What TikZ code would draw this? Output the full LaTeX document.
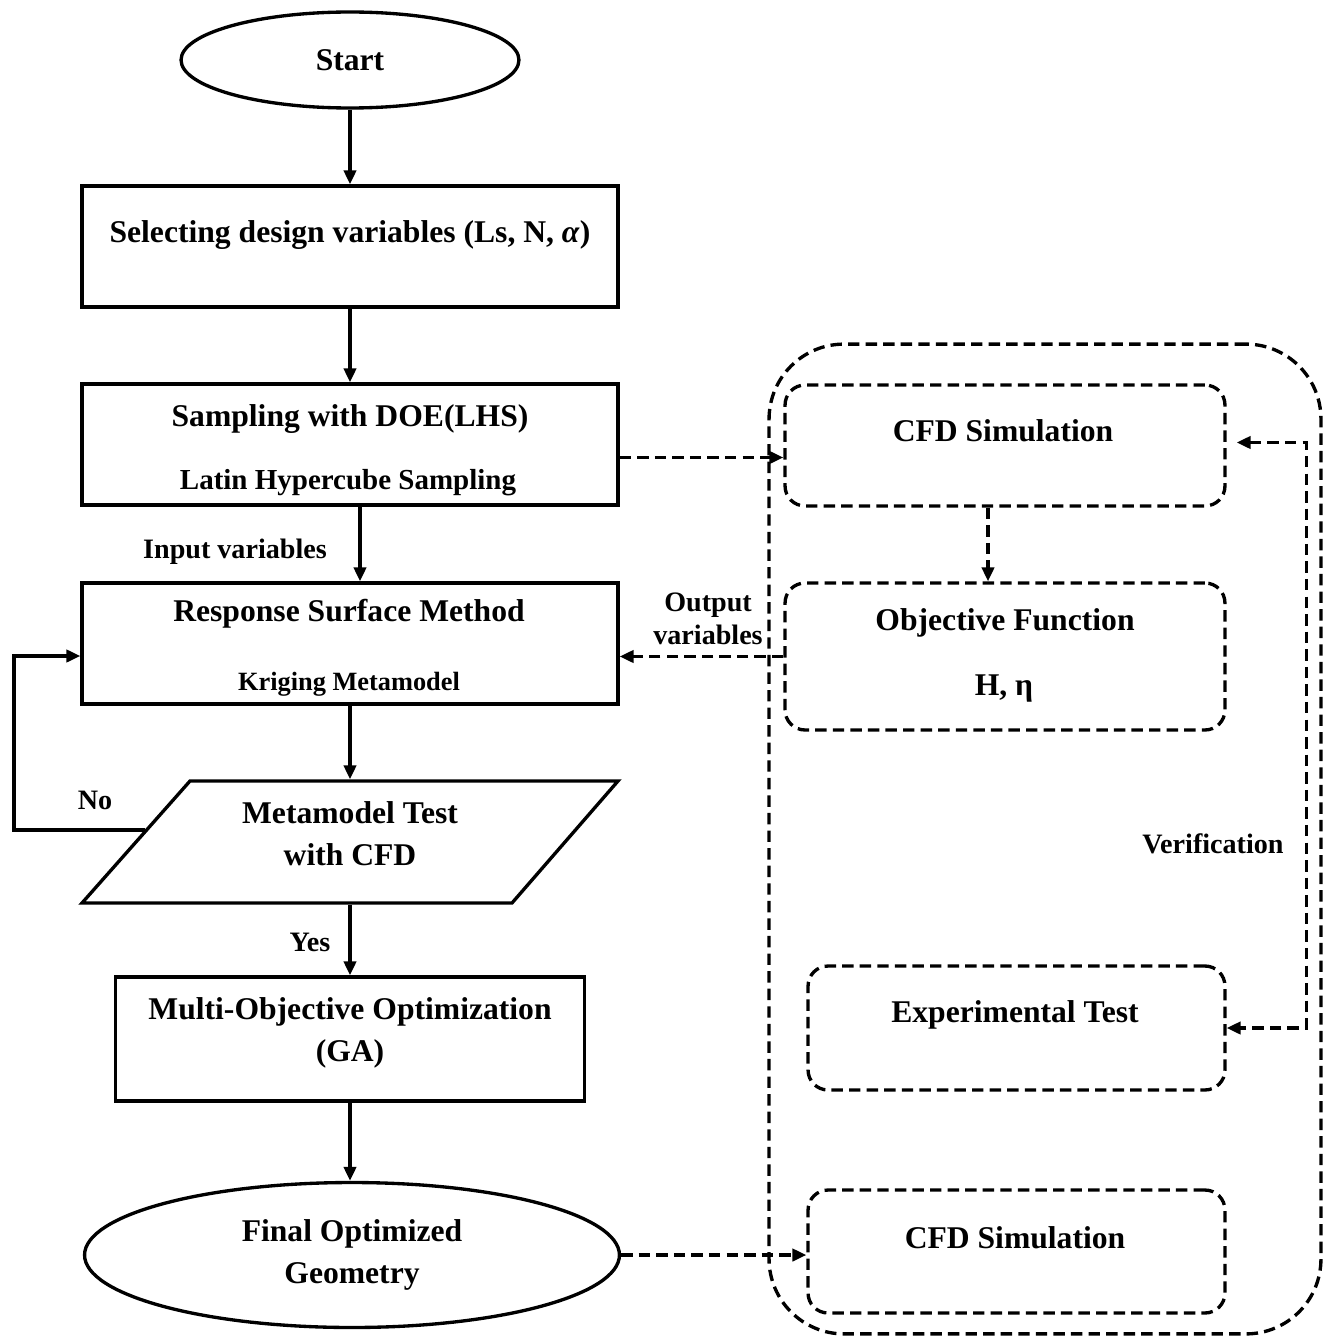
\documentclass[tikz,border=0pt]{standalone}
\usepackage{fontspec}
\setmainfont{Liberation Serif}
\usetikzlibrary{arrows.meta,shapes.geometric,positioning}

\begin{document}
\begin{tikzpicture}[x=0.02cm,y=-0.02cm,>={Triangle[length=8pt,width=7pt]},
		line width=1.9pt,font=\bfseries\fontsize{18}{24}\selectfont]
		\tikzstyle{block}=[draw,rectangle,minimum width=10.72cm,minimum height=2.42cm,inner sep=0pt]
		\tikzstyle{term}=[draw,ellipse,inner sep=0pt,align=center]
		\tikzstyle{dline}=[dash pattern=on 6.5pt off 3.5pt]
		\tikzstyle{dblock}=[draw,dline,rectangle,rounded corners=0.4cm,inner sep=0pt]
		\tikzstyle{txt}=[inner sep=0pt,align=center]
		\tikzstyle{sub}=[txt,font=\bfseries\fontsize{16}{19}\selectfont]
		
		\useasboundingbox (0,0) rectangle (1325,1338);
		
		% main flow
		\node[term,minimum width=6.76cm,minimum height=1.92cm] (start) at (350,60) {Start};
		\node[block] (select) at (350,246.5) {};
		\node[txt] (selecttxt) at (350,235) {Selecting design variables (Ls, N, \textit{α})};
		\node[block] (sampling) at (350,444.5) {};
		\node[txt] (samplingtxt) at (350,419) {Sampling with DOE(LHS)};
		\node[sub,font=\bfseries\fontsize{16.5}{19}\selectfont] (lhstxt) at (348,483) {Latin Hypercube Sampling};
		\node[block] (rsm) at (350,643.5) {};
		\node[txt] (rsmtxt) at (349,614) {Response Surface Method};
		\node[sub,font=\bfseries\fontsize{15}{18}\selectfont] (krigtxt) at (349,684) {Kriging Metamodel};
		% decision parallelogram
		\coordinate (tbl) at (82,903);
		\coordinate (ttl) at (190,781);
		\coordinate (ttr) at (618,781);
		\coordinate (tbr) at (512,903);
		\draw (tbl) -- (ttl) -- (ttr) -- (tbr) -- cycle;
		\node[minimum width=10.72cm,minimum height=2.44cm,inner sep=0pt] (test) at (350,842) {};
		\node[txt] (testtxt) at (350,834) {Metamodel Test\\with CFD};
		\node[block,minimum width=9.38cm,minimum height=2.48cm] (moo) at (350,1039) {};
		\node[txt] (mootxt) at (350,1033) {Multi-Objective Optimization\\(GA)};
		\node[term,minimum width=10.7cm,minimum height=2.9cm] (final) at (352,1255) {Final Optimized\\Geometry};
		
		% verification group
		\node[draw,dline,rectangle,rounded corners=1.5cm,minimum width=11.04cm,minimum height=19.8cm] (group) at (1045,839) {};
		\node[dblock,minimum width=8.8cm,minimum height=2.42cm] (cfd) at (1005,445.5) {};
		\node[txt] (cfdtxt) at (1003,431) {CFD Simulation};
		\node[dblock,minimum width=8.8cm,minimum height=2.94cm] (obj) at (1005,656.5) {};
		\node[txt] (objtxt) at (1005,623) {Objective Function};
		\node[txt] (objvar) at (1004,689) {H, η};
		\node[dblock,minimum width=8.34cm,minimum height=2.48cm] (exp) at (1016.5,1028) {};
		\node[txt] (exptxt) at (1015,1015) {Experimental Test};
		\node[dblock,minimum width=8.34cm,minimum height=2.46cm] (cfdb) at (1016.5,1251.5) {};
		\node[txt] (cfdbtxt) at (1015,1238) {CFD Simulation};
		
		% labels
		\node[sub] (inputlbl) at (235,552) {Input variables};
		\node[sub] (yeslbl) at (310,942) {Yes};
		\node[sub] (nolbl) at (95,800) {No};
		\node[sub] (outlbl) at (708,619) {Output\\variables};
		\node[sub] (verlbl) at (1213,844) {Verification};
		
		\coordinate (nostart) at (145,830);
		
		\draw[->] (start) -- (select);
		\draw[->] (select) -- (sampling);
		\draw[->] ([xshift=0.2cm]sampling.south) -- ([xshift=0.2cm]rsm.north);
		\draw[->] (rsm) -- (test);
		\draw[->] (test) -- (moo);
		\draw[->] (moo.south) -- (moo.south |- final.north);
		\draw[->] (nostart) -- ++(-131,0) |- ([yshift=-0.25cm]rsm.west);
		
		\draw[dline,->] ([yshift=-0.26cm]sampling.east) -- ([yshift=-0.26cm]sampling.east -| cfd.west);
		\draw[dline,->] ([xshift=-0.34cm]cfd.south) -- ([xshift=-0.34cm]obj.north);
		\draw[dline,->] (obj.west) -- (obj.west -| rsm.east);
		\draw[dline,->] (final.east) -- (final.east -| cfdb.west);
		\draw[dline,<->,shorten <=0.2cm] ([yshift=0.06cm]cfd.east) -- ++(80,0) |- (exp.east);
\end{tikzpicture}
\end{document}
